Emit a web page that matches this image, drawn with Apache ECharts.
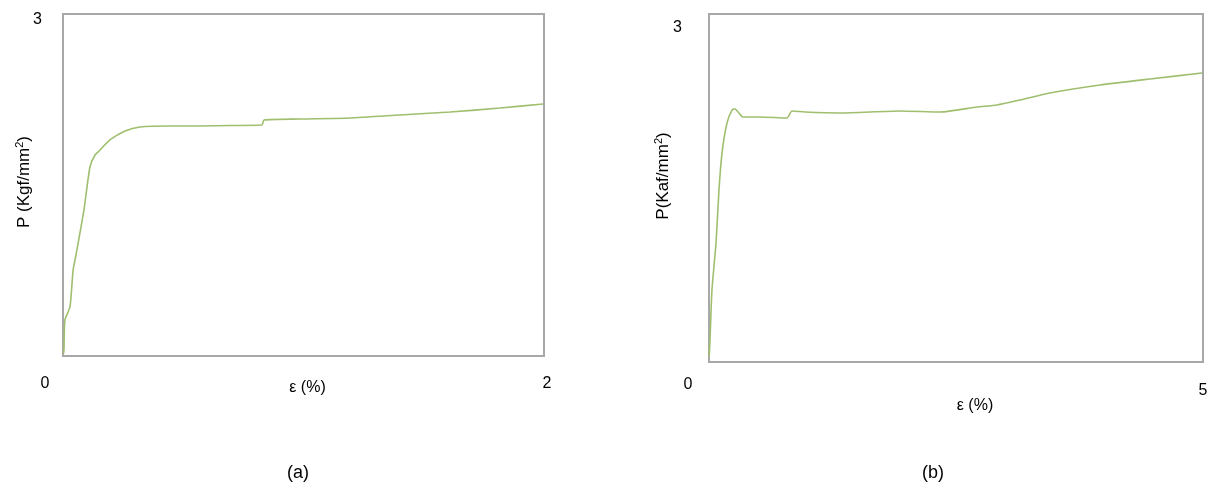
<!DOCTYPE html>
<html>
<head>
<meta charset="utf-8">
<script src="https://cdn.jsdelivr.net/npm/echarts@6/dist/echarts.min.js"></script>
<style>html,body{margin:0;padding:0;background:#fff}#c{width:1214px;height:498px}</style>
</head>
<body>
<div id="c"></div>
<script>
// Chart (a): strain (%) vs stress P (Kgf/mm²)
const strainA = [0.002, 0.004, 0.008, 0.029, 0.042, 0.054, 0.087, 0.112, 0.133, 0.154, 0.195, 0.258, 0.32, 0.445, 0.57, 0.70, 0.827, 0.836, 0.985, 1.193, 1.40, 1.609, 1.817, 1.996];
const stressA = [0.02, 0.053, 0.316, 0.43, 0.754, 0.886, 1.28, 1.658, 1.763, 1.807, 1.895, 1.974, 2.009, 2.018, 2.018, 2.022, 2.026, 2.07, 2.079, 2.088, 2.114, 2.14, 2.175, 2.21];
// Chart (b)
const strainB = [0.002, 0.01, 0.03, 0.071, 0.101, 0.132, 0.182, 0.233, 0.263, 0.304, 0.344, 0.516, 0.789, 0.84, 0.972, 1.326, 1.933, 2.338, 2.713, 2.915, 3.148, 3.451, 3.957, 4.464, 4.99];
const stressB = [0.05, 0.19, 0.62, 1.026, 1.483, 1.802, 2.06, 2.172, 2.181, 2.147, 2.112, 2.112, 2.103, 2.164, 2.155, 2.147, 2.164, 2.155, 2.198, 2.216, 2.259, 2.319, 2.388, 2.44, 2.491];
// Axis ranges / tick labels / names
const xMaxA = 2, xMaxB = 5, yMax = 3;
const yNameA = ['P (Kgf/mm', '2', ')'], yNameB = ['P(Kaf/mm', '2', ')'], xName = 'ε (%)';
const captions = ['(a)', '(b)'];

const pairs = (xs, ys) => xs.map((x, i) => [x, ys[i]]);
const font = 'Liberation Sans, Arial, sans-serif';
const lbl = { fontFamily: font, fontSize: 16, color: '#000' };
const nm = { fontFamily: font, fontSize: 17, color: '#000' };
const supName = p => '{n|' + p[0] + '}{s|' + p[1] + '}{n|' + p[2] + '}';
const nameRich = { n: nm, s: { fontFamily: font, fontSize: 11, color: '#000', padding: [0, 0, 9, 0] } };
const chart = echarts.init(document.getElementById('c'));
chart.setOption({
  animation: false,
  title: [
    { text: captions[0], left: 282, top: 459, textStyle: { fontFamily: font, fontSize: 18, fontWeight: 'normal', color: '#000' } },
    { text: captions[1], left: 917, top: 459, textStyle: { fontFamily: font, fontSize: 18, fontWeight: 'normal', color: '#000' } }
  ],
  grid: [
    { left: 63, top: 14, width: 481, height: 342, show: true, borderColor: '#a8a8a8', borderWidth: 2, backgroundColor: '#fff' },
    { left: 709, top: 14, width: 494, height: 348, show: true, borderColor: '#a8a8a8', borderWidth: 2, backgroundColor: '#fff' }
  ],
  xAxis: [
    { gridIndex: 0, type: 'value', min: 0, max: xMaxA, interval: xMaxA,
      name: xName, nameLocation: 'middle', nameGap: 24, nameMoveOverlap: false,
      nameTextStyle: Object.assign({}, lbl, { padding: [0, 0, 0, 8] }),
      axisLine: { show: false }, axisTick: { show: false }, splitLine: { show: false },
      axisLabel: { margin: 20, formatter: v => v === 0 ? '{a|0}' : '{b|' + v + '}',
        rich: { a: Object.assign({}, lbl, { padding: [0, 36, 0, 0] }), b: Object.assign({}, lbl, { padding: [0, 0, 0, 6] }) } } },
    { gridIndex: 1, type: 'value', min: 0, max: xMaxB, interval: xMaxB,
      name: xName, nameLocation: 'middle', nameGap: 36, nameMoveOverlap: false,
      nameTextStyle: Object.assign({}, lbl, { padding: [0, 0, 0, 38] }),
      axisLine: { show: false }, axisTick: { show: false }, splitLine: { show: false },
      axisLabel: { margin: 15, formatter: v => v === 0 ? '{a|0}' : '{b|' + v + '}',
        rich: { a: Object.assign({}, lbl, { padding: [0, 42, 0, 0] }), b: Object.assign({}, lbl, { padding: [6, 0, 0, 0] }) } } }
  ],
  yAxis: [
    { gridIndex: 0, type: 'value', min: 0, max: yMax, interval: yMax,
      name: supName(yNameA), nameLocation: 'middle', nameGap: 29, nameMoveOverlap: false,
      nameTextStyle: { padding: [0, 0, 0, 6], rich: nameRich },
      axisLine: { show: false }, axisTick: { show: false }, splitLine: { show: false },
      axisLabel: { margin: 21, formatter: v => v === 0 ? '' : '{a|' + v + '}',
        rich: { a: Object.assign({}, lbl, { padding: [12, 0, 0, 0] }) } } },
    { gridIndex: 1, type: 'value', min: 0, max: yMax, interval: yMax,
      name: supName(yNameB), nameLocation: 'middle', nameGap: 36, nameMoveOverlap: false,
      nameTextStyle: { padding: [0, 0, 0, 24], rich: nameRich },
      axisLine: { show: false }, axisTick: { show: false }, splitLine: { show: false },
      axisLabel: { margin: 27, formatter: v => v === 0 ? '' : '{a|' + v + '}',
        rich: { a: Object.assign({}, lbl, { padding: [28, 0, 0, 0] }) } } }
  ],
  series: [
    { type: 'line', xAxisIndex: 0, yAxisIndex: 0, data: pairs(strainA, stressA), showSymbol: false, smooth: 0.2,
      lineStyle: { color: '#9fbf6f', width: 1.6 } },
    { type: 'line', xAxisIndex: 1, yAxisIndex: 1, data: pairs(strainB, stressB), showSymbol: false, smooth: 0.2,
      lineStyle: { color: '#9fbf6f', width: 1.6 } }
  ]
});
</script>
</body>
</html>
